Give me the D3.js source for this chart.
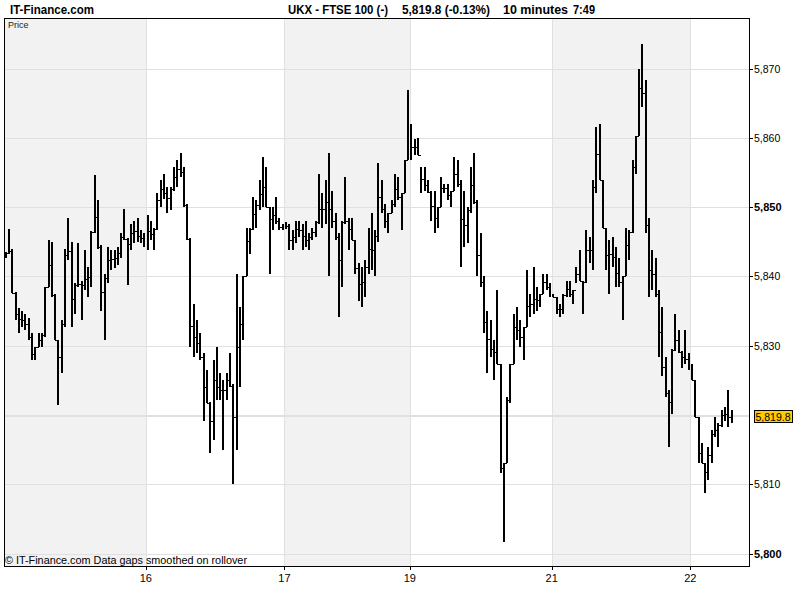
<!DOCTYPE html>
<html>
<head>
<meta charset="utf-8">
<script src="https://cdn.jsdelivr.net/npm/d3@7"></script>
<style>
  body { margin: 0; background: #fff; }
  svg { display: block; }
  text { font-family: "Liberation Sans", Arial, sans-serif; }
</style>
</head>
<body>
<svg width="800" height="600"></svg>
<script>
//	10 minute bars, [low, high], one array per trading day
var dayA = [[5842.6,5843.5],[5843.3,5846.9],[5837.6,5844],[5833.7,5837.7],[5831.8,5835.4],[5832.7,5835],[5832.2,5834.6],[5830.8,5834],[5827.9,5831.8],[5827.9,5829.8],
    [5829.8,5831.8],[5829.8,5831.8],[5831.2,5838.5],[5838.4,5845.2],[5837,5845],[5830.8,5837.5],[5821.4,5830.8],[5826,5833.7],[5832.7,5844],[5842.3,5848.5],
    [5832.7,5845],[5834.6,5839],[5838.4,5844.8],[5833.7,5839.4],[5838,5843.8],[5837,5841.3],[5838.4,5846.5],[5846.2,5854.6],[5844,5851],[5835,5844.5],
    [5830.8,5840.4],[5839,5844.2],[5840.9,5843.8],[5841.2,5843.8],[5841.6,5844.2],[5842.7,5846.2],[5845.2,5849.8],[5838.7,5845.5],[5843.8,5847.6],[5844.8,5848],
    [5845,5848.5],[5844.8,5846.7],[5844.2,5846.2]];
var day16 = [[5843.8,5848.8],[5845.2,5848],[5843.8,5847],[5846.7,5852],[5850,5853.9],[5851.2,5854.8],[5849.1,5852.9],[5849.6,5852.9],[5852.4,5855.8],[5852.9,5856.8],
    [5854.3,5857.8],[5850,5855.8],[5845.2,5850.5],[5829.8,5845.5],[5828.3,5836],[5828.9,5833.7],[5827.9,5831.8],[5819.2,5828.9],[5821.7,5826.5],[5814.5,5821.9],
    [5816.4,5827.9],[5822.1,5829.8],[5822.1,5826],[5814.9,5825],[5822.1,5826],[5824,5828.9],[5810.1,5824.5],[5815,5840.4],[5824,5835.6],[5830.8,5840],
    [5840,5847],[5843.3,5847],[5846.7,5851.5],[5847,5851],[5849.6,5853.9],[5850,5857.2],[5850,5855.8],[5840.4,5850],[5846.7,5850],[5847.6,5851.5],
    [5846.7,5848.5],[5846.7,5847.6]];
var day17 = [[5846.9,5847.8],[5843.8,5847.6],[5843.8,5846.7],[5844.8,5848],[5845.7,5848],[5843.8,5847.6],[5844.2,5848],[5843.8,5846.2],[5845.2,5847],[5845.7,5848],
    [5847.6,5854.8],[5847,5852],[5847.6,5853.9],[5840,5857.8],[5847,5852.4],[5845.2,5849.1],[5834.1,5846.2],[5838.4,5848],[5847.6,5854.3],[5843.8,5848.5],
    [5845.2,5848.5],[5840.4,5845.2],[5836.5,5841.9],[5835.6,5841.3],[5837,5842.3],[5840.4,5847],[5840.9,5849.1],[5840,5846.7],[5845,5856.3],[5849.1,5853.9],
    [5847,5850.5],[5846.2,5849.1],[5849.1,5851],[5850,5854.8],[5851,5854.3],[5846.7,5852],[5852,5856.8],[5856.8,5866.9]];
var day19 = [[5856.8,5862],[5857.5,5859.9],[5857.5,5860],[5852,5855.8],[5852.4,5855.8],[5852,5853.9],[5848,5852.4],[5846.2,5852.4],[5847,5850],[5850,5854.3],
    [5852,5853.4],[5851,5853.4],[5850,5852.4],[5852.4,5857.2],[5852.9,5856.8],[5841.3,5853.9],[5844.2,5852.4],[5844.8,5850],[5849.1,5855.8],[5850.5,5857.8],
    [5840,5851],[5838.4,5846.2],[5831.8,5840],[5826,5835],[5828.3,5833.7],[5825,5830.8],[5827.4,5838],[5811.6,5827.4],[5801.6,5813],[5813,5822.6],
    [5821.7,5827.4],[5827.4,5834.6],[5830.8,5835.6],[5829.8,5833.7],[5827.9,5832.7],[5832.7,5840.9],[5834.1,5837.5],[5834.6,5841.3],[5835,5838.4],[5835.6,5837.5],
    [5837.5,5840.4],[5838,5840.4],[5837,5839]];
var day21 = [[5837,5837.5],[5834.6,5837],[5834.1,5836],[5834.6,5837.5],[5837,5839.4],[5837,5839.4],[5836,5838],[5839,5841.3],[5839.4,5843.8],[5834.6,5839.4],
    [5839,5846.7],[5841.9,5845.7],[5840.9,5853.9],[5852,5861.5],[5853.9,5862],[5847,5853.9],[5840.9,5847],[5837.5,5845.2],[5841.3,5845.7],[5838.4,5844.2],
    [5838.4,5842.7],[5833.7,5840],[5840,5847],[5842.3,5846.7],[5846.2,5856.8],[5854.8,5860.2],[5860.2,5870],[5864.5,5873.6],[5846.2,5868.4],[5837,5848.5],
    [5838,5843.8],[5837,5842.7],[5828.3,5838],[5825.6,5835.6],[5822.6,5828.3],[5815.4,5823.6],[5820.2,5829.5],[5829.3,5834.6],[5828.9,5832.2],[5826.8,5829.3],
    [5827.4,5832.2],[5826.5,5828.9]];
var day22 = [[5825,5827.4],[5819.7,5825],[5813,5819.7],[5813,5815.9],[5808.7,5813],[5810.6,5815.4],[5813,5817.8],[5816.8,5819.7],[5815.4,5818.8],[5818.3,5820.7],
    [5819.2,5821.2],[5818.3,5823.6],[5818.8,5820.7]];

var days = [dayA, day16, day17, day19, day21, day22];
var dayLabels = ["", "16", "17", "19", "21", "22"];
var shadedDays = [0, 2, 4];
var yTicks = [5800, 5810, 5820, 5830, 5840, 5850, 5860, 5870];
var yLabels = [5800, 5810, 5830, 5840, 5850, 5860, 5870];   // 5,820 sits under the price tag
var boldTicks = [5800, 5850];
var lastPrice = 5819.8;
var slotCount = 225.8;   // bar slots across the plot width

//	svg and plot box
var svg = d3.select("svg");
var plotL = 4, plotR = 749, plotT = 18, plotB = 566;

//	flatten bars, remember where each day starts
var bars = [], dayStart = [];
days.forEach(function (d, di) {
    dayStart.push(bars.length);
    d.forEach(function (b) {
        bars.push({i: bars.length, lo: b[0], hi: b[1], day: di});
    });
});
dayStart.push(bars.length);

var x = d3.scaleLinear().domain([0, slotCount]).range([plotL, plotR]);
var y = d3.scaleLinear().domain([5798.2, 5877.3]).range([plotB, plotT]);

//	shaded days
svg.append("g").selectAll("rect")
        .data(shadedDays)
        .enter().append("rect")
        .attr("x", function (d) { return Math.round(x(dayStart[d])); })
        .attr("y", plotT)
        .attr("width", function (d) { return Math.round(x(dayStart[d + 1])) - Math.round(x(dayStart[d])); })
        .attr("height", plotB - plotT)
        .attr("fill", "#f2f2f2");

//	grid
var grid = svg.append("g").attr("stroke", "#e0e0e0").attr("shape-rendering", "crispEdges");
grid.selectAll(".hg")
        .data(yTicks.concat([lastPrice]))
        .enter().append("line")
        .attr("x1", plotL).attr("x2", plotR)
        .attr("y1", function (d) { return Math.round(y(d)) + 0.5; })
        .attr("y2", function (d) { return Math.round(y(d)) + 0.5; });
grid.selectAll(".vg")
        .data(d3.range(1, days.length))
        .enter().append("line")
        .attr("y1", plotT).attr("y2", plotB)
        .attr("x1", function (d) { return Math.round(x(dayStart[d])) + 0.5; })
        .attr("x2", function (d) { return Math.round(x(dayStart[d])) + 0.5; });

//	price bars
var px = function (d) { return Math.round(x(d.i + 0.5)); };
svg.append("g").selectAll("rect")
        .data(bars)
        .enter().append("rect")
        .attr("x", function (d) { return px(d) - 1; })
        .attr("y", function (d) { return Math.round(y(d.hi)); })
        .attr("width", 2)
        .attr("height", function (d) { return Math.max(1, Math.round(y(d.lo)) - Math.round(y(d.hi))); })
        .attr("fill", "#000");

//	small connectors between bars of the same day
var links = bars.filter(function (d, k) {
    return k < bars.length - 1 && bars[k + 1].day === d.day;
});
svg.append("g").attr("stroke", "#000").attr("shape-rendering", "crispEdges")
        .selectAll("line")
        .data(links)
        .enter().append("line")
        .attr("x1", function (d) { return px(d); })
        .attr("x2", function (d) { return px(bars[d.i + 1]); })
        .attr("y1", function (d) { return level(d); })
        .attr("y2", function (d) { return level(d); });

function level(d) {
    var n = bars[d.i + 1];
    var a = Math.max(d.lo, n.lo), b = Math.min(d.hi, n.hi);
    var v = a <= b ? (a + b) / 2 : (n.lo > d.hi ? d.hi : d.lo);
    return Math.round(y(v)) + 0.5;
}

//	frame
svg.append("path")
        .attr("d", "M" + (plotL + 0.5) + "," + plotB + "V" + (plotT + 0.5) + "H" + (plotR + 0.5) + "V" + (plotB + 0.5) + "H" + plotL)
        .attr("fill", "none")
        .attr("stroke", "#000")
        .attr("shape-rendering", "crispEdges");

//	right axis
var fmt = d3.format(",");
var ya = svg.append("g");
ya.selectAll("line")
        .data(yLabels)
        .enter().append("line")
        .attr("x1", plotR).attr("x2", plotR + 4)
        .attr("y1", function (d) { return Math.round(y(d)) + 0.5; })
        .attr("y2", function (d) { return Math.round(y(d)) + 0.5; })
        .attr("stroke", "#000");
ya.selectAll("text")
        .data(yLabels)
        .enter().append("text")
        .attr("x", plotR + 5)
        .attr("y", function (d) { return y(d) + 4; })
        .attr("font-size", function (d) { return boldTicks.includes(d) ? 11 : 10.5; })
        .attr("font-weight", function (d) { return boldTicks.includes(d) ? "bold" : "normal"; })
        .attr("fill", "#000")
        .text(function (d) { return fmt(d); });

//	last price tag
var tag = svg.append("g");
tag.append("rect")
        .attr("x", plotR + 5.5)
        .attr("y", Math.round(y(lastPrice)) - 5.5)
        .attr("width", 38).attr("height", 12)
        .attr("fill", "#ffcc00").attr("stroke", "#000");
tag.append("text")
        .attr("x", plotR + 6.5)
        .attr("y", y(lastPrice) + 4.5)
        .attr("font-size", 10.5)
        .text(d3.format(",.1f")(lastPrice));

//	bottom axis
var xa = svg.append("g");
var labelled = d3.range(1, days.length);
xa.selectAll("line")
        .data(labelled)
        .enter().append("line")
        .attr("x1", function (d) { return Math.round(x(dayStart[d])) + 0.5; })
        .attr("x2", function (d) { return Math.round(x(dayStart[d])) + 0.5; })
        .attr("y1", plotB).attr("y2", plotB + 4)
        .attr("stroke", "#000");
xa.selectAll("text")
        .data(labelled)
        .enter().append("text")
        .attr("x", function (d) { return x(dayStart[d]); })
        .attr("y", plotB + 16)
        .attr("text-anchor", "middle")
        .attr("font-size", 11)
        .text(function (d) { return dayLabels[d]; });

//	header texts
svg.append("text").attr("x", 10).attr("y", 14)
        .attr("font-size", 13).attr("font-weight", "bold")
        .attr("textLength", 84).attr("lengthAdjust", "spacingAndGlyphs")
        .text("IT-Finance.com");
var head = [["UKX - FTSE 100 (-)", 288, 100], ["5,819.8 (-0.13%)", 402, 88], ["10 minutes", 503, 65], ["7:49", 573, 22]];
svg.append("g").selectAll("text")
        .data(head)
        .enter().append("text")
        .attr("x", function (d) { return d[1]; })
        .attr("y", 14)
        .attr("font-size", 12).attr("font-weight", "bold")
        .attr("textLength", function (d) { return d[2]; })
        .attr("lengthAdjust", "spacingAndGlyphs")
        .text(function (d) { return d[0]; });

svg.append("text").attr("x", 8).attr("y", 28)
        .attr("font-size", 9).attr("fill", "#222")
        .text("Price");

svg.append("text").attr("x", 5).attr("y", 564)
        .attr("font-size", 11)
        .attr("textLength", 242).attr("lengthAdjust", "spacingAndGlyphs")
        .text("\u00a9 IT-Finance.com  Data gaps smoothed on rollover");
</script>
</body>
</html>
